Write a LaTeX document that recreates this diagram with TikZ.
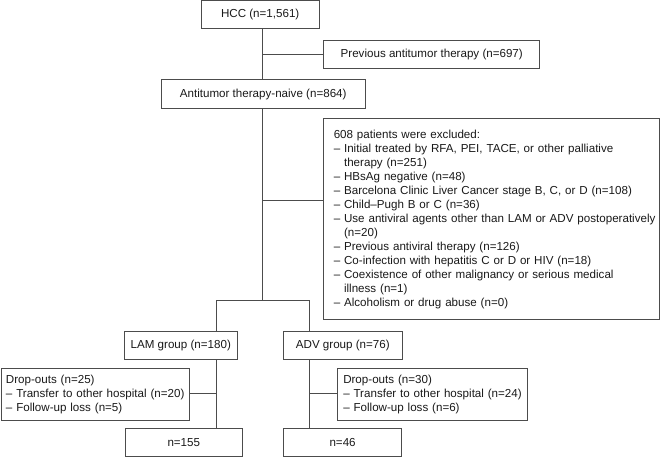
\documentclass[tikz,border=0pt]{standalone}
\usepackage{fontspec}
\setmainfont{Liberation Sans}
\newcommand\fsz{\fontsize{11.6}{14}\selectfont}
\begin{document}
\begin{tikzpicture}[x=1pt,y=-1pt,
  box/.style={draw=black!70, line width=0.9pt, inner sep=0pt, anchor=north west, font=\fsz, text=black!90},
  link/.style={draw=black!70, line width=0.9pt}]
\useasboundingbox (0,0) rectangle (660,457);
% boxes
\node[box, minimum width=117.5pt, minimum height=28pt] (hcc) at (201,0.5) {HCC (n=1,561)};
\node[box, minimum width=216pt, minimum height=28.5pt] (prev) at (323.3,40) {Previous antitumor therapy (n=697)};
\node[box, minimum width=203.5pt, minimum height=28.5pt] (naive) at (161,79.5) {Antitumor therapy-naive (n=864)};
\node[box, text width=315.7pt, inner xsep=10pt, minimum height=201pt, align=left] (excl) at (323.3,118.3) {%
\begin{tabular}{@{}l@{}}
608 patients were excluded:\\
– Initial treated by RFA, PEI, TACE, or other palliative\\
\phantom{– }therapy (n=251)\\
– HBsAg negative (n=48)\\
– Barcelona Clinic Liver Cancer stage B, C, or D (n=108)\\
– Child–Pugh B or C (n=36)\\
\hbox to 316pt{– Use antiviral agents other than LAM or ADV postoperatively}\\
\phantom{– }(n=20)\\
– Previous antiviral therapy (n=126)\\
– Co-infection with hepatitis C or D or HIV (n=18)\\
– Coexistence of other malignancy or serious medical\\
\phantom{– }illness (n=1)\\
– Alcoholism or drug abuse (n=0)
\end{tabular}};
\node[box, minimum width=112.7pt, minimum height=28.3pt] (lam) at (124,330.7) {LAM group (n=180)};
\node[box, minimum width=118.7pt, minimum height=28.3pt] (adv) at (283,330.7) {ADV group (n=76)};
\node[box, text width=178.5pt, inner xsep=5pt, minimum height=52pt, align=left] (dropl) at (0.5,368) {%
\begin{tabular}{@{}l@{}}
Drop-outs (n=25)\\
– Transfer to other hospital (n=20)\\
– Follow-up loss (n=5)
\end{tabular}};
\node[box, text width=178.4pt, inner xsep=5.5pt, minimum height=52pt, align=left] (dropr) at (337.3,368) {%
\begin{tabular}{@{}l@{}}
Drop-outs (n=30)\\
– Transfer to other hospital (n=24)\\
– Follow-up loss (n=6)
\end{tabular}};
\node[box, minimum width=116.7pt, minimum height=28.5pt] (nl) at (125,427.7) {n=155};
\node[box, minimum width=117.7pt, minimum height=28.5pt] (nr) at (283.3,427.7) {n=46};
% junction coordinates
\coordinate (main) at (262.8,0);
\coordinate (split) at (262.8,300.7);
\coordinate (lx) at (216.7,300.7);
\coordinate (rx) at (309.3,300.7);
\coordinate (b1) at (262.8,54.5);
\coordinate (b2) at (262.8,200);
\coordinate (b3) at (216.7,393);
\coordinate (b4) at (309.3,393);
% connectors
\draw[link] (hcc.south -| main) -- (naive.north -| main);
\draw[link] (b1) -- (prev.west |- b1);
\draw[link] (naive.south -| main) -- (split);
\draw[link] (b2) -- (excl.west |- b2);
\draw[link] (lam.north -| lx) -- (lx) -- (rx) -- (adv.north -| rx);
\draw[link] (lam.south -| lx) -- (nl.north -| lx);
\draw[link] (b3) -- (dropl.east |- b3);
\draw[link] (adv.south -| rx) -- (nr.north -| rx);
\draw[link] (b4) -- (dropr.west |- b4);
\end{tikzpicture}
\end{document}
